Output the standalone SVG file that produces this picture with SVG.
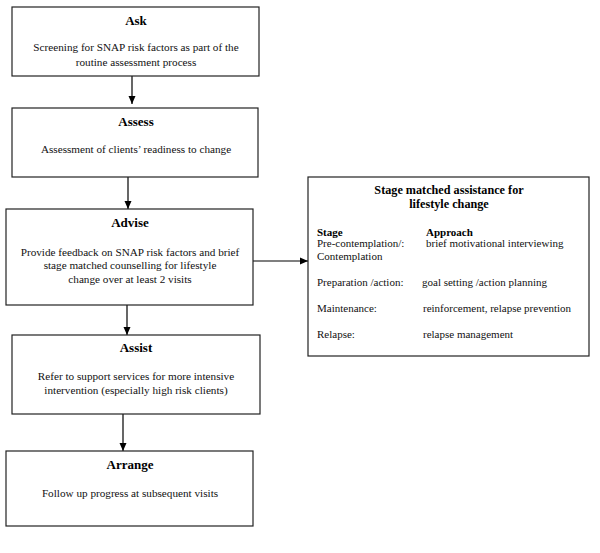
<svg xmlns="http://www.w3.org/2000/svg" width="600" height="553" viewBox="0 0 600 553">
<defs>
<marker id="ah" markerWidth="8" markerHeight="8" refX="8" refY="4" orient="auto" markerUnits="userSpaceOnUse">
<path d="M0,0.5 L8,4 L0,7.5 Z" fill="#000"/>
</marker>
<style>
.box{fill:#fff;stroke:#222;stroke-width:1.2}
.t{font-family:"Liberation Serif","Times New Roman",serif;font-weight:bold;font-size:13px;fill:#000;text-anchor:middle}
.t2{font-family:"Liberation Serif","Times New Roman",serif;font-weight:bold;font-size:12.2px;fill:#000;text-anchor:middle}
.b{font-family:"Liberation Serif","Times New Roman",serif;font-size:11.2px;fill:#111;text-anchor:middle}
.s{font-family:"Liberation Serif","Times New Roman",serif;font-size:11px;fill:#111}
.sh{font-family:"Liberation Serif","Times New Roman",serif;font-size:11px;font-weight:bold;fill:#000}
.c{stroke:#000;stroke-width:1.2;fill:none;marker-end:url(#ah)}
</style>
</defs>
<rect width="600" height="553" fill="#fff"/>
<g id="connectors">
<line class="c" x1="132" y1="76" x2="132" y2="104"/>
<line class="c" x1="128" y1="177" x2="128" y2="209"/>
<line class="c" x1="127" y1="305" x2="127" y2="335"/>
<line class="c" x1="123" y1="414" x2="123" y2="451"/>
<line class="c" x1="253" y1="261" x2="308" y2="261"/>
</g>
<g id="ask">
<rect class="box" x="12" y="7" width="247" height="69"/>
<text class="t" x="136" y="25">Ask</text>
<text class="b" x="136" y="51">Screening for SNAP risk factors as part of the</text>
<text class="b" x="136" y="66">routine assessment process</text>
</g>
<g id="assess">
<rect class="box" x="12" y="108" width="246" height="69"/>
<text class="t" x="136" y="126">Assess</text>
<text class="b" x="136" y="153">Assessment of clients’ readiness to change</text>
</g>
<g id="advise">
<rect class="box" x="6" y="209" width="247" height="96"/>
<text class="t" x="130" y="227">Advise</text>
<text class="b" x="130" y="256">Provide feedback on SNAP risk factors and brief</text>
<text class="b" x="130" y="269">stage matched counselling for lifestyle</text>
<text class="b" x="130" y="283">change over at least 2 visits</text>
</g>
<g id="assist">
<rect class="box" x="12" y="335" width="248" height="79"/>
<text class="t" x="136" y="352">Assist</text>
<text class="b" x="136" y="380">Refer to support services for more intensive</text>
<text class="b" x="136" y="394">intervention (especially high risk clients)</text>
</g>
<g id="arrange">
<rect class="box" x="6" y="451" width="247" height="75"/>
<text class="t" x="130" y="469">Arrange</text>
<text class="b" x="130" y="497">Follow up progress at subsequent visits</text>
</g>
<g id="stage-box">
<rect class="box" x="308" y="177" width="281" height="179"/>
<text class="t2" x="449" y="194">Stage matched assistance for</text>
<text class="t2" x="449" y="208">lifestyle change</text>
<text class="sh" x="317" y="236">Stage</text>
<text class="sh" x="426" y="236">Approach</text>
<text class="s" x="317" y="247">Pre-contemplation/:</text>
<text class="s" x="426" y="247">brief motivational interviewing</text>
<text class="s" x="317" y="260">Contemplation</text>
<text class="s" x="317" y="286">Preparation /action:</text>
<text class="s" x="422" y="286">goal setting /action planning</text>
<text class="s" x="317" y="312">Maintenance:</text>
<text class="s" x="423" y="312">reinforcement, relapse prevention</text>
<text class="s" x="317" y="338">Relapse:</text>
<text class="s" x="423" y="338">relapse management</text>
</g>
</svg>
